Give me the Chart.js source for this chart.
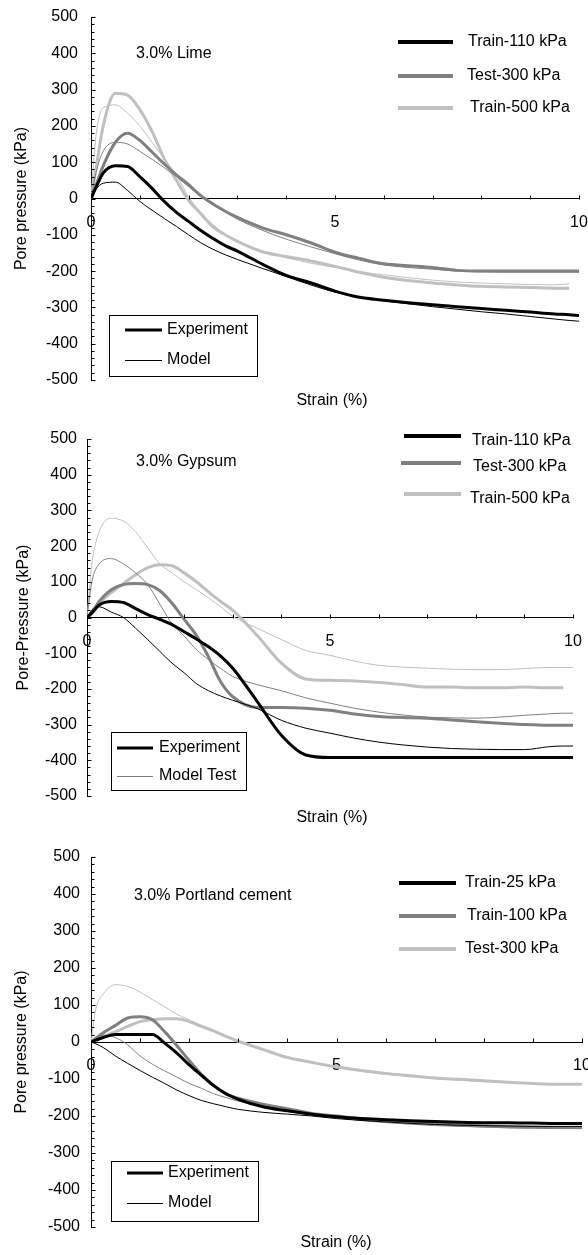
<!DOCTYPE html>
<html>
<head>
<meta charset="utf-8">
<script src="https://cdn.jsdelivr.net/npm/chart.js@4.4.1/dist/chart.umd.min.js"></script>
<style>
    body { margin: 0; background: #fff; }
    canvas { position: absolute; left: 0; }
</style>
</head>
<body>
<canvas id="limeChart" width="588" height="420" style="top:0"></canvas>
<canvas id="gypsumChart" width="588" height="420" style="top:420px"></canvas>
<canvas id="cementChart" width="588" height="415" style="top:840px"></canvas>
<script>
// strain (%) shared by every curve
const strain = [0, 0.1, 0.25, 0.5, 0.75, 1, 1.25, 1.5, 1.75, 2, 2.25, 2.5, 2.75, 3, 3.5, 4, 4.5, 5, 5.5, 6, 6.5, 7, 7.5, 8, 8.5, 9, 9.5, 9.8, 10];

// pore pressure (kPa) - 3.0% Lime
const limeExp110 = [0, 30, 70, 90, 88, 60, 28, -8, -38, -63, -88, -110, -130, -145, -180, -212, -232, -255, -272, -280, -287, -293, -298, -303, -308, -313, -318, -320, -322];
const limeMod110 = [0, 25, 42, 45, 22, -8, -32, -55, -77, -100, -122, -140, -155, -168, -192, -215, -238, -258, -272, -282, -290, -298, -305, -312, -318, -325, -332, -336, -338];
const limeExp300 = [0, 35, 90, 155, 180, 160, 128, 95, 65, 38, 8, -15, -35, -52, -80, -100, -122, -148, -165, -180, -185, -190, -198, -200, -200, -200, -200, -200, -200];
const limeMod300 = [0, 70, 130, 155, 150, 130, 108, 85, 60, 33, 5, -17, -37, -57, -87, -112, -133, -152, -170, -183, -190, -195, -200, -202, -203, -203, -203, -203, -203];
const limeExp500 = [0, 80, 200, 290, 285, 245, 185, 110, 50, -5, -42, -78, -100, -118, -146, -160, -172, -187, -203, -217, -226, -233, -238, -242, -244, -245, -247, -247, null];
const limeMod500 = [0, 170, 250, 258, 235, 200, 155, 110, 65, 5, -38, -72, -98, -118, -146, -163, -178, -190, -202, -210, -218, -225, -230, -233, -235, -237, -238, -235, null];

// pore pressure (kPa) - 3.0% Gypsum
const gypExp110 = [0, 12, 35, 45, 42, 25, 8, -5, -20, -40, -60, -82, -108, -142, -235, -330, -385, -392, -392, -392, -392, -392, -392, -392, -392, -392, -392, -392, -392];
const gypMod110 = [0, 20, 30, 15, 0, -30, -62, -95, -128, -155, -185, -205, -220, -232, -255, -288, -310, -324, -338, -349, -357, -363, -367, -369, -370, -370, -362, -360, -360];
const gypExp300 = [0, 15, 45, 78, 92, 95, 92, 75, 40, -5, -50, -110, -180, -222, -252, -252, -254, -260, -270, -277, -280, -282, -287, -292, -296, -300, -302, -302, -302];
const gypMod300 = [0, 100, 150, 165, 150, 125, 92, 37, -18, -52, -90, -118, -143, -165, -188, -205, -225, -240, -254, -265, -273, -279, -281, -282, -279, -274, -270, -268, -268];
const gypExp500 = [0, 15, 40, 70, 95, 120, 140, 148, 145, 125, 100, 72, 45, 20, -50, -128, -172, -176, -178, -182, -188, -195, -195, -197, -197, -195, -197, -197, null];
const gypMod500 = [0, 150, 240, 278, 270, 240, 195, 150, 125, 100, 78, 55, 30, 3, -30, -62, -92, -106, -122, -134, -139, -142, -145, -146, -146, -143, -140, -140, -140];

// pore pressure (kPa) - 3.0% Portland cement
const pcExp25 = [0, 5, 12, 20, 20, 20, 20, -3, -30, -62, -90, -118, -140, -155, -175, -186, -195, -202, -207, -210, -213, -215, -217, -218, -218, -219, -220, -220, -220];
const pcMod25 = [0, -5, -15, -38, -58, -77, -95, -112, -130, -145, -158, -167, -175, -182, -190, -195, -200, -207, -212, -216, -220, -223, -225, -226, -227, -228, -228, -228, -228];
const pcExp100 = [0, 10, 25, 45, 65, 68, 60, 28, -10, -50, -88, -118, -140, -152, -168, -180, -193, -200, -207, -212, -217, -220, -224, -227, -229, -230, -231, -231, -231];
const pcMod100 = [0, 10, 18, 12, -8, -38, -60, -78, -95, -112, -125, -140, -150, -160, -175, -188, -197, -205, -212, -218, -222, -226, -228, -230, -232, -233, -234, -234, -234];
const pcExp300 = [0, 8, 15, 28, 42, 55, 60, 63, 63, 55, 42, 30, 15, 2, -20, -42, -55, -67, -77, -85, -91, -97, -101, -105, -109, -112, -114, -114, -114];
const pcMod300 = [0, 90, 130, 155, 150, 135, 115, 95, 75, 60, 45, 30, 15, 0, -22, -42, -57, -69, -79, -87, -93, -99, -103, -107, -110, -113, -115, -115, -115];

const limeLabels = ['Train-110 kPa', 'Test-300 kPa', 'Train-500 kPa'];
const gypLabels = ['Train-110 kPa', 'Test-300 kPa', 'Train-500 kPa'];
const pcLabels = ['Train-25 kPa', 'Train-100 kPa', 'Test-300 kPa'];

const FONT = "16px Arial, 'Liberation Sans', sans-serif";
const SHADES = ['#000000', '#808080', '#c0c0c0'];

Chart.defaults.font.family = "Arial, 'Liberation Sans', sans-serif";
Chart.defaults.font.size = 16;
Chart.defaults.color = '#000';

function points(values) {
    return strain.map(function (s, i) {
        return { x: s, y: values[i] };
    });
}

function line(ctx, x1, y1, x2, y2) {
    ctx.beginPath();
    ctx.moveTo(x1, y1);
    ctx.lineTo(x2, y2);
    ctx.stroke();
}

// ticks, legends and captions that Excel puts inside the plot
function panelDecor(p) {
    return {
        id: 'panelDecor',
        afterDraw: function (chart) {
            const ctx = chart.ctx;
            const xs = chart.scales.x;
            const ys = chart.scales.y;
            const zeroY = Math.round(ys.getPixelForValue(0)) + 0.5;
            const axisX = Math.round(chart.chartArea.left) + 0.5;

            ctx.save();
            ctx.strokeStyle = '#000';
            ctx.lineWidth = 1;
            for (let v = 1; v <= 10; v++) {
                const px = Math.round(xs.getPixelForValue(v)) + 0.5;
                line(ctx, px, zeroY - 4, px, zeroY);
            }
            for (let v = -500; v <= 500; v += 20) {
                const py = Math.round(ys.getPixelForValue(v)) + 0.5;
                line(ctx, axisX, py, axisX + (v % 100 === 0 ? 4 : 3), py);
            }

            ctx.font = FONT;
            ctx.fillStyle = '#000';
            ctx.textBaseline = 'alphabetic';
            ctx.textAlign = 'left';
            ctx.fillText(p.caption, p.captionX, p.captionY);
            ctx.textAlign = 'center';
            ctx.fillText('Strain (%)', p.titleX, p.titleY);

            // pressure legend, top right
            ctx.textAlign = 'left';
            ctx.textBaseline = 'middle';
            p.legend.forEach(function (row, i) {
                ctx.strokeStyle = SHADES[i];
                ctx.lineWidth = 4;
                line(ctx, row.x1, row.y, row.x2, row.y);
                ctx.fillText(p.labels[i], row.tx, row.ty);
            });

            // experiment / model box
            const b = p.box;
            ctx.strokeStyle = '#000';
            ctx.lineWidth = 1;
            ctx.strokeRect(b.left + 0.5, b.top + 0.5, b.right - b.left, b.bottom - b.top);
            ctx.lineWidth = 3;
            line(ctx, b.lx1, b.expY, b.lx2, b.expY);
            ctx.fillText('Experiment', b.tx, b.expY);
            ctx.strokeStyle = b.modelColor;
            ctx.lineWidth = 1;
            line(ctx, b.lx1, b.modY + 0.5, b.lx2, b.modY + 0.5);
            ctx.fillText(b.modelText, b.tx, b.modY);
            ctx.restore();
        },
    };
}

function renderPanel(p) {
    const canvas = document.getElementById(p.id);
    const series = [
        { values: p.exp[0], shade: 0, thick: true },
        { values: p.mod[0], shade: 0, thick: false },
        { values: p.exp[1], shade: 1, thick: true },
        { values: p.mod[1], shade: 1, thick: false },
        { values: p.exp[2], shade: 2, thick: true },
        { values: p.mod[2], shade: 2, thick: false },
    ];

    new Chart(canvas, {
        type: 'line',
        data: {
            datasets: series.map(function (s) {
                return {
                    data: points(s.values),
                    borderColor: SHADES[s.shade],
                    borderWidth: s.thick ? 3 : 1,
                    pointRadius: 0,
                    cubicInterpolationMode: 'monotone',
                    spanGaps: false,
                };
            }),
        },
        options: {
            responsive: false,
            animation: false,
            devicePixelRatio: 1,
            layout: {
                padding: { top: p.top, bottom: canvas.height - p.bottom, right: canvas.width - p.right, left: 0 },
            },
            plugins: {
                legend: { display: false },
                tooltip: { enabled: false },
            },
            scales: {
                x: {
                    type: 'linear',
                    position: { y: 0 },
                    min: 0,
                    max: 10,
                    afterFit: function (scale) {
                        scale.paddingLeft = 0;
                        scale.paddingRight = 0;
                    },
                    grid: { display: false, drawTicks: false },
                    border: { display: true, color: '#000', width: 1 },
                    ticks: {
                        stepSize: 1,
                        autoSkip: false,
                        maxRotation: 0,
                        padding: 14,
                        callback: function (value) {
                            return value % 5 === 0 ? value : '';
                        },
                    },
                },
                y: {
                    type: 'linear',
                    min: -500,
                    max: 500,
                    afterFit: function (scale) {
                        scale.width = p.left;
                        scale.paddingTop = 0;
                        scale.paddingBottom = 0;
                    },
                    grid: { display: false, drawTicks: false },
                    border: { display: true, color: '#000', width: 1 },
                    ticks: { stepSize: 100, padding: p.tickPad },
                    title: {
                        display: true,
                        text: p.yTitle,
                        padding: { top: p.yTitlePad, bottom: 0 },
                    },
                },
            },
        },
        plugins: [panelDecor(p)],
    });
}

document.addEventListener('DOMContentLoaded', function () {
    renderPanel({
        id: 'limeChart',
        exp: [limeExp110, limeExp300, limeExp500],
        mod: [limeMod110, limeMod300, limeMod500],
        labels: limeLabels,
        left: 91, right: 579, top: 17, bottom: 380,
        tickPad: 13, yTitlePad: 12,
        yTitle: 'Pore pressure (kPa)',
        caption: '3.0% Lime', captionX: 136, captionY: 58,
        titleX: 332, titleY: 405,
        legend: [
            { x1: 398, x2: 453, y: 42, tx: 468, ty: 42 },
            { x1: 398, x2: 453, y: 76, tx: 467, ty: 76 },
            { x1: 398, x2: 453, y: 108, tx: 470, ty: 108 },
        ],
        box: { left: 109, right: 257, top: 315, bottom: 376, lx1: 125, lx2: 162, tx: 167, expY: 330, modY: 360, modelColor: '#000', modelText: 'Model' },
    });

    renderPanel({
        id: 'gypsumChart',
        exp: [gypExp110, gypExp300, gypExp500],
        mod: [gypMod110, gypMod300, gypMod500],
        labels: gypLabels,
        left: 87, right: 573, top: 19, bottom: 376,
        tickPad: 10, yTitlePad: 14,
        yTitle: 'Pore-Pressure (kPa)',
        caption: '3.0% Gypsum', captionX: 136, captionY: 46,
        titleX: 332, titleY: 402,
        legend: [
            { x1: 404, x2: 461, y: 16, tx: 472, ty: 21 },
            { x1: 401, x2: 461, y: 43, tx: 473, ty: 47 },
            { x1: 404, x2: 461, y: 74, tx: 470, ty: 79 },
        ],
        box: { left: 111, right: 246, top: 312, bottom: 370, lx1: 117, lx2: 153, tx: 159, expY: 328, modY: 356, modelColor: '#808080', modelText: 'Model Test' },
    });

    renderPanel({
        id: 'cementChart',
        exp: [pcExp25, pcExp100, pcExp300],
        mod: [pcMod25, pcMod100, pcMod300],
        labels: pcLabels,
        left: 91, right: 582, top: 17, bottom: 387,
        tickPad: 11, yTitlePad: 12,
        yTitle: 'Pore pressure (kPa)',
        caption: '3.0% Portland cement', captionX: 134, captionY: 60,
        titleX: 336, titleY: 407,
        legend: [
            { x1: 399, x2: 456, y: 43, tx: 465, ty: 43 },
            { x1: 399, x2: 456, y: 76, tx: 467, ty: 76 },
            { x1: 399, x2: 456, y: 109, tx: 465, ty: 109 },
        ],
        box: { left: 111, right: 258, top: 321, bottom: 381, lx1: 127, lx2: 163, tx: 168, expY: 333, modY: 363, modelColor: '#000', modelText: 'Model' },
    });
});
</script>
</body>
</html>
